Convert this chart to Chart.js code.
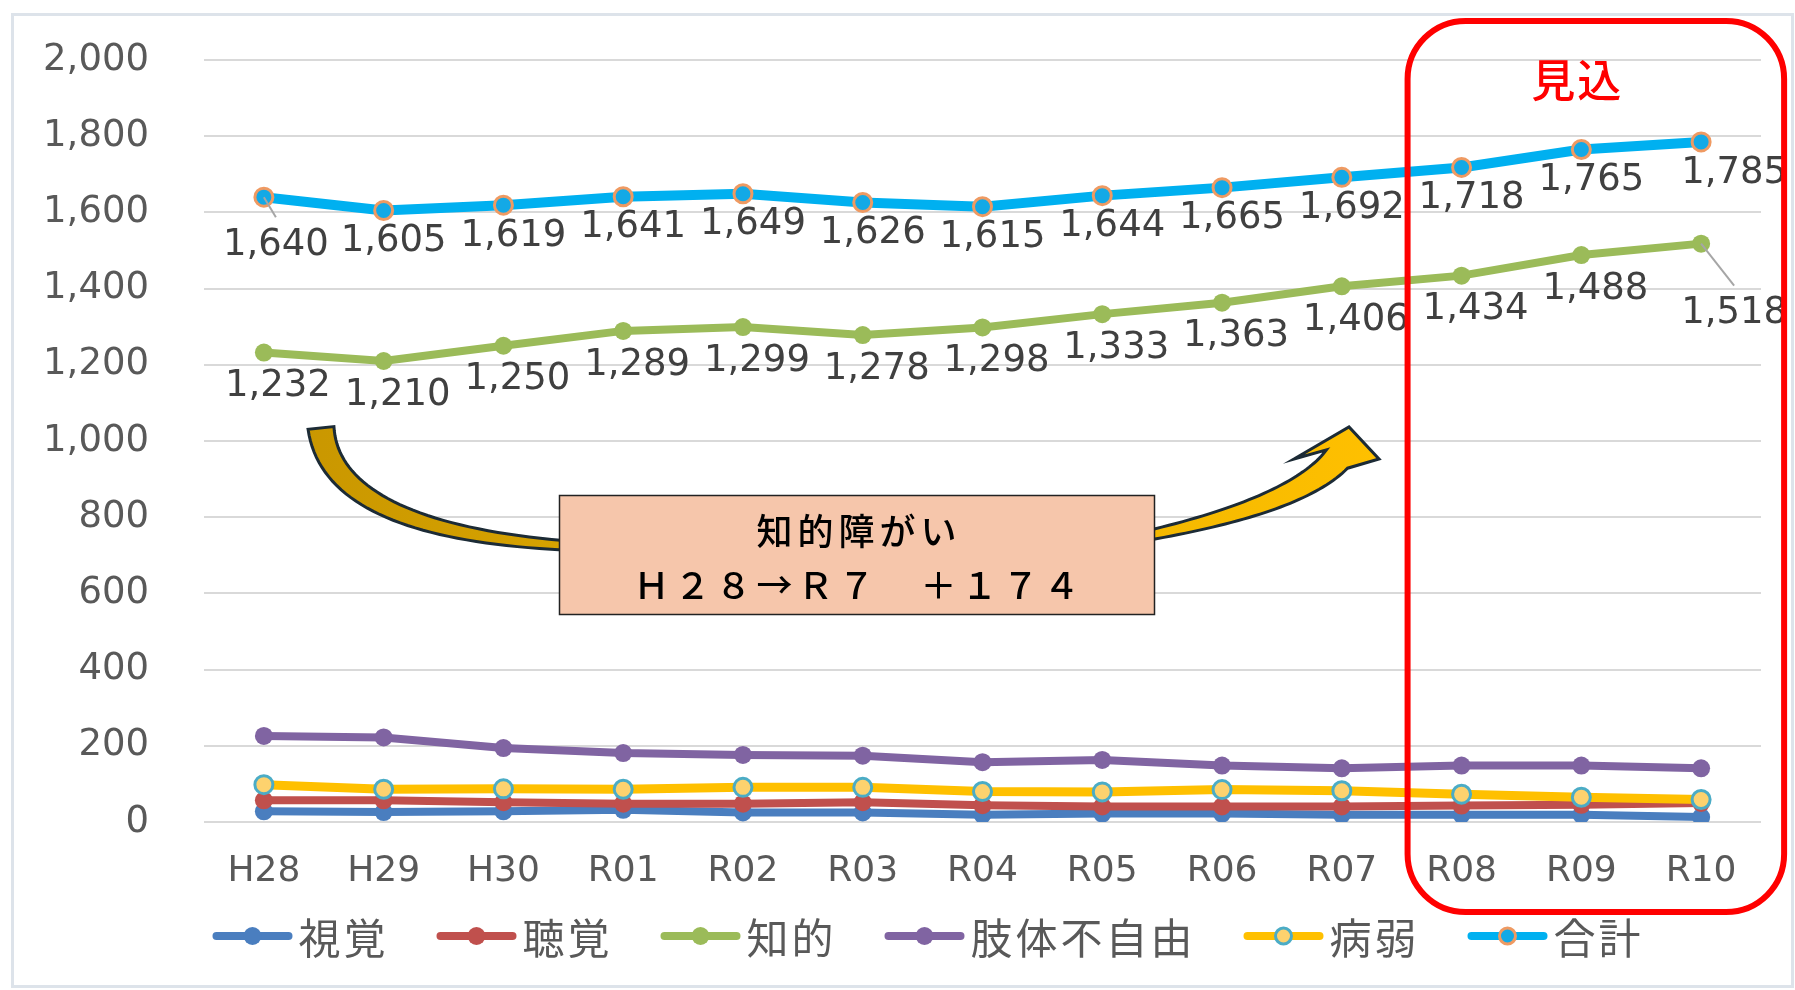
<!DOCTYPE html>
<html lang="ja">
<head>
<meta charset="UTF-8">
<title>障がい種別 推移</title>
<script src="https://cdn.jsdelivr.net/npm/chart.js@4.4.1/dist/chart.umd.min.js"></script>
<style>
  html, body { margin: 0; padding: 0; background: #fff; }
  #wrap { width: 1795px; height: 990px; }
</style>
</head>
<body>
<div id="wrap"><canvas id="chart" width="1795" height="990"></canvas></div>
<script>
// データ
const categories = ['H28', 'H29', 'H30', 'R01', 'R02', 'R03', 'R04', 'R05', 'R06', 'R07', 'R08', 'R09', 'R10'];
const seriesNames = ['視覚', '聴覚', '知的', '肢体不自由', '病弱', '合計'];
const shikaku  = [28, 26, 28, 32, 25, 25, 19, 22, 22, 19, 19, 19, 13];
const choukaku = [57, 57, 52, 48, 48, 52, 44, 41, 41, 41, 43, 45, 50];
const chiteki  = [1232, 1210, 1250, 1289, 1299, 1278, 1298, 1333, 1363, 1406, 1434, 1488, 1518];
const shitai   = [226, 222, 194, 181, 176, 174, 157, 163, 148, 141, 148, 148, 141];
const byoujaku = [98, 86, 87, 86, 91, 91, 80, 79, 85, 82, 73, 65, 59];
const goukei   = [1640, 1605, 1619, 1641, 1649, 1626, 1615, 1644, 1665, 1692, 1718, 1765, 1785];
const yMin = 0, yMax = 2000, yStep = 200;
const forecastFrom = 'R08';   // 見込 の開始
const noteLines = ['知的障がい', 'Ｈ２８→Ｒ７　＋１７４'];

const numFont = '"DejaVu Sans", sans-serif';
const jpFont = '"Noto Sans CJK JP", sans-serif';

// 系列ごとの見た目
const styles = [
  { line: '#4a7ebf', fill: '#4a7ebf', border: '#4a7ebf', bw: 0, width: 8 },
  { line: '#c0504d', fill: '#c0504d', border: '#c0504d', bw: 0, width: 8 },
  { line: '#9bbb59', fill: '#9bbb59', border: '#9bbb59', bw: 0, width: 8 },
  { line: '#8064a2', fill: '#8064a2', border: '#8064a2', bw: 0, width: 8 },
  { line: '#ffc000', fill: '#fdd26e', border: '#4bacc6', bw: 3, width: 9 },
  { line: '#00b0f0', fill: '#13a9e6', border: '#ef9a62', bw: 3, width: 10 }
];
const values = [shikaku, choukaku, chiteki, shitai, byoujaku, goukei];

const datasets = values.map((v, i) => ({
  label: seriesNames[i],
  data: v,
  borderColor: styles[i].line,
  backgroundColor: styles[i].line,
  borderWidth: styles[i].width,
  pointRadius: 9,
  pointBackgroundColor: styles[i].fill,
  pointBorderColor: styles[i].border,
  pointBorderWidth: styles[i].bw,
  tension: 0,
  order: values.length - i   // 後の系列を上に描く
}));
// データラベル (知的・合計)
datasets[2].valueLabels = { dx: 14, dy: 34, special: { 12: { dx: 33, dy: 70, leader: true } } };
datasets[5].valueLabels = { dx: 10, dy: 31, special: { 0: { dx: 12, dy: 48, leader: true }, 12: { dx: 33, dy: 31 } } };

const valueLabelPlugin = {
  id: 'valueLabels',
  afterDatasetsDraw(chart) {
    const ctx = chart.ctx;
    ctx.save();
    ctx.font = '37px ' + numFont;
    ctx.textAlign = 'center';
    ctx.textBaseline = 'middle';
    chart.data.datasets.forEach((ds, i) => {
      if (!ds.valueLabels) return;
      const meta = chart.getDatasetMeta(i);
      meta.data.forEach((pt, j) => {
        const sp = ds.valueLabels.special[j] || ds.valueLabels;
        const tx = pt.x + sp.dx, ty = pt.y + sp.dy;
        if (sp.leader) {
          ctx.strokeStyle = '#a6a6a6';
          ctx.lineWidth = 2;
          ctx.beginPath();
          ctx.moveTo(pt.x, pt.y);
          ctx.lineTo(tx, ty - 28);
          ctx.stroke();
        }
        ctx.fillStyle = '#404040';
        ctx.fillText(ds.data[j].toLocaleString('en-US'), tx, ty);
      });
    });
    ctx.restore();
  }
};

// 先細りの曲線帯 (2次ベジェの中心線 + 幅)
function bandPoints(p0, c, p2, w0, w1, n) {
  const left = [], right = [];
  for (let k = 0; k <= n; k++) {
    const t = k / n, u = 1 - t;
    const x = u * u * p0[0] + 2 * u * t * c[0] + t * t * p2[0];
    const y = u * u * p0[1] + 2 * u * t * c[1] + t * t * p2[1];
    const tx = 2 * u * (c[0] - p0[0]) + 2 * t * (p2[0] - c[0]);
    const ty = 2 * u * (c[1] - p0[1]) + 2 * t * (p2[1] - c[1]);
    const len = Math.hypot(tx, ty);
    const nx = -ty / len, ny = tx / len;
    const w = (w0 + (w1 - w0) * t) / 2;
    left.push([x + nx * w, y + ny * w]);
    right.push([x - nx * w, y - ny * w]);
  }
  return { left, right };
}

// 枠・矢印・注記・見込・凡例
const decorPlugin = {
  id: 'decor',
  beforeDraw(chart) {
    const ctx = chart.ctx;
    ctx.save();
    ctx.fillStyle = '#ffffff';
    ctx.fillRect(0, 0, chart.width, chart.height);
    ctx.strokeStyle = '#dde3ea';
    ctx.lineWidth = 3;
    ctx.strokeRect(12.5, 14.5, 1780, 972);
    ctx.restore();
  },
  afterDraw(chart) {
    const ctx = chart.ctx;
    const xs = chart.scales.x;
    ctx.save();

    // 曲線矢印
    const grad = ctx.createLinearGradient(300, 0, 1380, 0);
    grad.addColorStop(0, '#c99700');
    grad.addColorStop(0.45, '#e2ac00');
    grad.addColorStop(1, '#ffc000');
    ctx.fillStyle = grad;
    ctx.strokeStyle = '#1c2b36';
    ctx.lineWidth = 3;
    ctx.lineJoin = 'miter';

    const a = bandPoints([321, 428], [332, 532], [575, 546], 26, 9, 40);
    ctx.beginPath();
    a.left.forEach((p, k) => k ? ctx.lineTo(p[0], p[1]) : ctx.moveTo(p[0], p[1]));
    a.right.slice().reverse().forEach(p => ctx.lineTo(p[0], p[1]));
    ctx.closePath();
    ctx.fill();
    ctx.stroke();

    const b = bandPoints([1140, 537], [1296, 506], [1337, 459], 9, 28, 40);
    ctx.beginPath();
    b.left.forEach((p, k) => k ? ctx.lineTo(p[0], p[1]) : ctx.moveTo(p[0], p[1]));
    ctx.lineTo(1379, 459);
    ctx.lineTo(1349, 427);
    ctx.lineTo(1294, 459);
    b.right.slice().reverse().forEach(p => ctx.lineTo(p[0], p[1]));
    ctx.closePath();
    ctx.fill();
    ctx.stroke();

    // 注記ボックス
    ctx.fillStyle = '#f6c6ab';
    ctx.fillRect(559, 495, 595, 119);
    ctx.strokeStyle = '#222';
    ctx.lineWidth = 1.5;
    ctx.strokeRect(559.5, 495.5, 595, 119);
    ctx.fillStyle = '#000';
    ctx.font = '500 36px ' + jpFont;
    ctx.textAlign = 'center';
    ctx.textBaseline = 'middle';
    ctx.letterSpacing = '5px';
    ctx.fillText(noteLines[0], 859, 531);
    ctx.fillText(noteLines[1], 859, 585);
    ctx.letterSpacing = '0px';

    // 見込 枠
    const i0 = categories.indexOf(forecastFrom);
    const left = xs.getPixelForValue(i0) - 54;
    const right = xs.getPixelForValue(categories.length - 1) + 83;
    const top = 21, bottom = 912, r = 58;
    ctx.strokeStyle = '#ff0000';
    ctx.lineWidth = 6;
    ctx.beginPath();
    ctx.roundRect(left, top, right - left, bottom - top, r);
    ctx.stroke();
    ctx.fillStyle = '#ff0000';
    ctx.font = '500 44px ' + jpFont;
    ctx.letterSpacing = '2px';
    ctx.fillText('見込', xs.getPixelForValue(i0 + 1) - 4, 80);
    ctx.letterSpacing = '0px';

    // 凡例
    ctx.font = '42px ' + jpFont;
    ctx.letterSpacing = '3px';
    ctx.textAlign = 'left';
    const gap = 48, lineLen = 80, textOff = 86, ly = 936;
    const widths = seriesNames.map(n => textOff + ctx.measureText(n).width);
    const total = widths.reduce((s, w) => s + w, 0) + gap * (widths.length - 1);
    let x = 928 - total / 2;
    seriesNames.forEach((name, i) => {
      const s = styles[i];
      ctx.strokeStyle = s.line;
      ctx.lineWidth = 8;
      ctx.lineCap = 'round';
      ctx.beginPath();
      ctx.moveTo(x + 4, ly);
      ctx.lineTo(x + lineLen - 4, ly);
      ctx.stroke();
      ctx.beginPath();
      ctx.arc(x + lineLen / 2, ly, s.bw ? 8 : 9, 0, Math.PI * 2);
      ctx.fillStyle = s.fill;
      ctx.fill();
      if (s.bw) {
        ctx.strokeStyle = s.border;
        ctx.lineWidth = s.bw;
        ctx.stroke();
      }
      ctx.fillStyle = '#595959';
      ctx.fillText(name, x + textOff, ly + 2);
      x += widths[i] + gap;
    });
    ctx.restore();
  }
};

new Chart(document.getElementById('chart'), {
  type: 'line',
  data: { labels: categories, datasets: datasets },
  options: {
    responsive: false,
    devicePixelRatio: 1,
    animation: false,
    layout: { padding: { top: 60, right: 34, left: 0, bottom: 0 } },
    plugins: {
      legend: { display: false },
      tooltip: { enabled: false }
    },
    scales: {
      x: {
        offset: true,
        grid: { display: false, drawTicks: false },
        border: { display: false },
        ticks: { color: '#595959', font: { family: numFont, size: 36 }, padding: 28, maxRotation: 0 },
        afterFit(scale) { scale.height = 168; }
      },
      y: {
        min: yMin,
        max: yMax,
        grid: { color: '#d9d9d9', lineWidth: 2, drawTicks: false },
        border: { display: false },
        ticks: {
          stepSize: yStep,
          color: '#595959',
          font: { family: numFont, size: 37 },
          padding: 55,
          callback: v => v.toLocaleString('en-US')
        },
        afterFit(scale) {
          scale.width = 204;
          // 目盛ラベルの余白で上端が下がらないようにする
          scale.paddingTop = 0;
          scale.paddingBottom = 0;
        }
      }
    }
  },
  plugins: [decorPlugin, valueLabelPlugin]
});
</script>
</body>
</html>
